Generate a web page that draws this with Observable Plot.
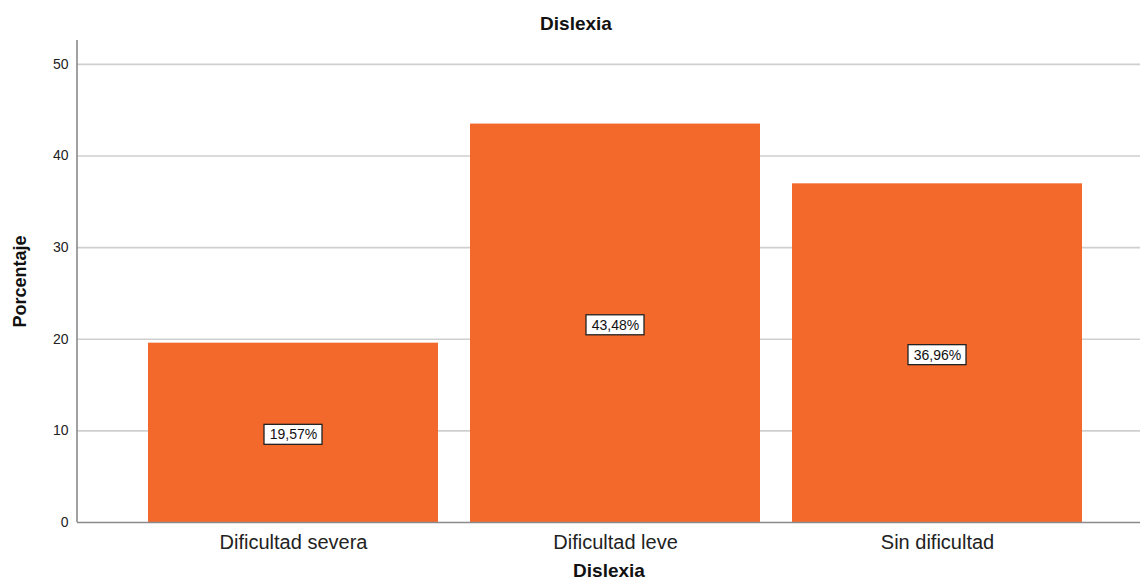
<!DOCTYPE html>
<html>
<head>
<meta charset="utf-8">
<script src="https://cdn.jsdelivr.net/npm/d3@7"></script>
<script src="https://cdn.jsdelivr.net/npm/@observablehq/plot@0.6"></script>
<style>
  html, body { margin: 0; padding: 0; background: #fff; }
  #wrap { position: relative; width: 1140px; height: 588px; font-family: "Liberation Sans", Arial, sans-serif; }
  #title { position: absolute; left: 0; top: 13px; width: 1152px; text-align: center; font-weight: bold; font-size: 19px; color: #111; z-index: 2; }
  svg { position: absolute; left: 0; top: 0; z-index: 1; }
</style>
</head>
<body>
<div id="wrap"><div id="title">Dislexia</div></div>
<script>
const categories = ["Dificultad severa", "Dificultad leve", "Sin dificultad"];
const percentages = [19.57, 43.48, 36.96];
const valueLabels = ["19,57%", "43,48%", "36,96%"];
const yTicks = [0, 10, 20, 30, 40, 50];

const data = categories.map((c, i) => ({cat: c, v: percentages[i], label: valueLabels[i]}));

const chart = Plot.plot({
  width: 1140,
  height: 588,
  marginLeft: 77,
  marginRight: 0,
  marginTop: 40,
  marginBottom: 66,
  style: {fontFamily: "Liberation Sans, Arial, sans-serif", background: "white"},
  x: {domain: categories, paddingInner: 0.1, paddingOuter: 0.196, align: 0.55},
  y: {domain: [0, 52.6]},
  marks: [
    Plot.gridY(yTicks.filter(t => t > 0), {stroke: "#cfcfcf", strokeOpacity: 1, strokeWidth: 1.6}),
    Plot.barY(data, {x: "cat", y: "v", fill: "#f3692c"}),
    Plot.barY(data, {x: "cat", y1: d => d.v / 2, y2: d => d.v / 2, insetLeft: 116, insetRight: 116, insetTop: -8, insetBottom: -12, fill: "white", stroke: "#222", strokeWidth: 1.3}),
    Plot.text(data, {x: "cat", y: d => d.v / 2, text: "label", fontSize: 14, fill: "#111", dy: 2}),
    Plot.axisY({ticks: yTicks, tickSize: 0, tickPadding: 9, fontSize: 14, color: "#222", label: "Porcentaje", labelAnchor: "center", labelArrow: "none", labelOffset: 64}),
    Plot.axisX({tickSize: 0, tickPadding: 12, fontSize: 20, color: "#222", label: "Dislexia", labelAnchor: "center", labelArrow: "none", labelOffset: 54}),
    Plot.ruleY([0], {stroke: "#8a8a8a", strokeWidth: 1.6})
  ]
});
document.getElementById("wrap").appendChild(chart);

const svg = d3.select(chart);
svg.selectAll("[aria-label='y-axis label'] text, [aria-label='x-axis label'] text")
  .style("font-weight", "bold").style("font-size", "18px").attr("fill", "#111");
svg.selectAll("[aria-label='x-axis label'] text").style("font-size", "19px");
svg.append("line").attr("x1", 77).attr("x2", 77).attr("y1", 40).attr("y2", 522)
  .attr("stroke", "#8a8a8a").attr("stroke-width", 1.6);
</script>
</body>
</html>
